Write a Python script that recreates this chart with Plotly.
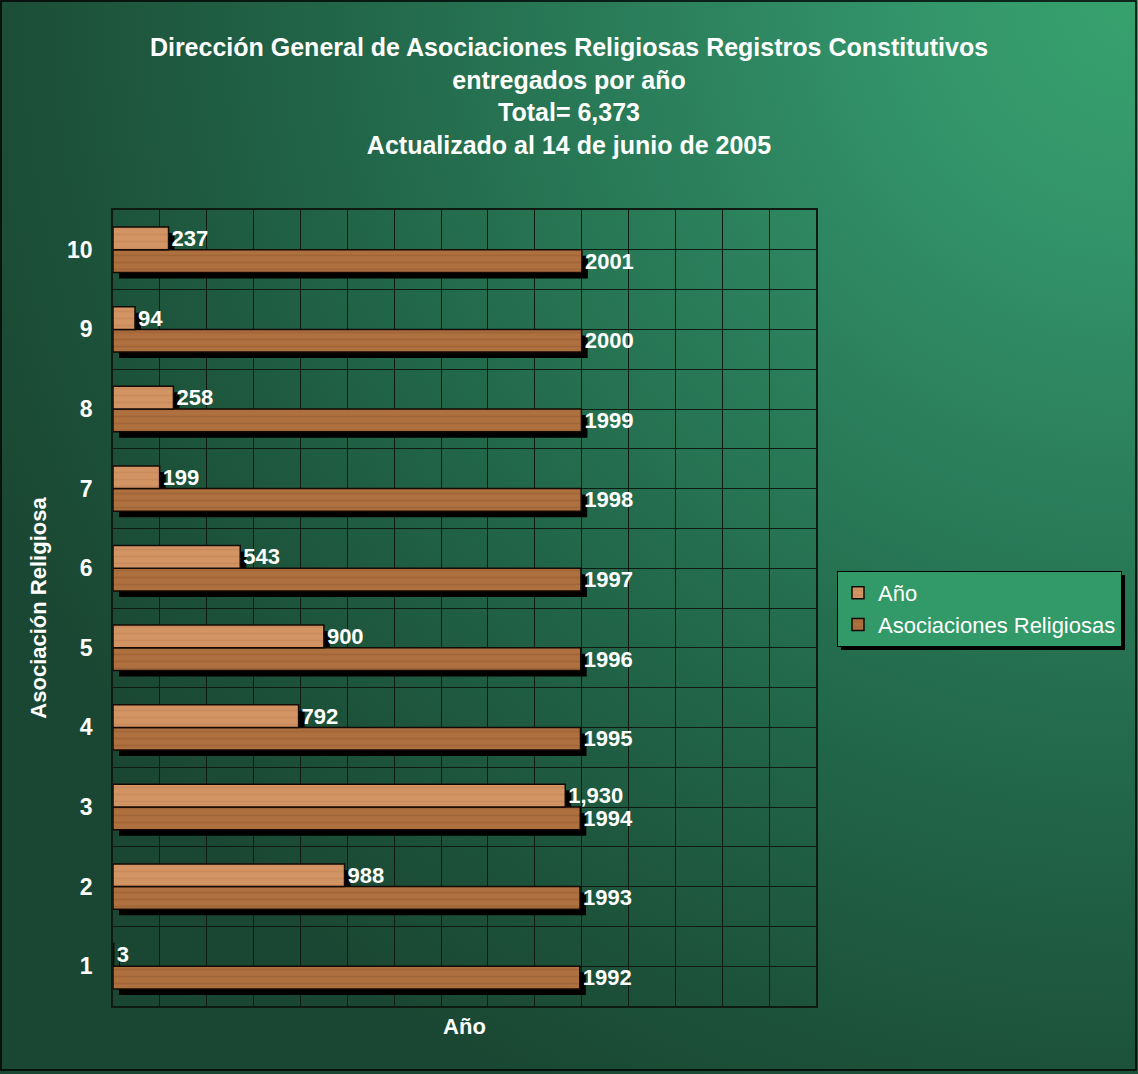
import base64
import plotly.graph_objects as go

# ---------------- data ----------------
cat_positions = [1, 2, 3, 4, 5, 6, 7, 8, 9, 10]
cat_labels = ["1", "2", "3", "4", "5", "6", "7", "8", "9", "10"]
anio_values = [3, 988, 1930, 792, 900, 543, 199, 258, 94, 237]
asoc_values = [1992, 1993, 1994, 1995, 1996, 1997, 1998, 1999, 2000, 2001]
series_names = ["Año", "Asociaciones Religiosas"]
title_lines = [
    "Dirección General de Asociaciones Religiosas Registros Constitutivos",
    "entregados por año",
    "Total= 6,373",
    "Actualizado al 14 de junio de 2005",
]
x_title = "Año"
y_title = "Asociación Religiosa"

# ---------------- geometry ----------------
W, H = 1138, 1074
ML, MR, MT, MB = 113, 322, 210, 68
PW, PH = W - ML - MR, H - MT - MB
XMAX = 3000
Y0, Y1 = 0.5, 10.5
SH_X, SH_Y = 6, 6  # shadow offset in px
dx = SH_X * XMAX / PW
dy = SH_Y * (Y1 - Y0) / PH

FONT = "Liberation Sans, Arial, sans-serif"
C_ANIO = "#D39464"
C_ASOC = "#AE703F"
GRID = "#0e1a12"

fig = go.Figure()

# shadows (main axes, shifted)
for vals in (asoc_values, anio_values):
    fig.add_trace(go.Bar(
        y=cat_positions, x=vals, orientation="h",
        marker=dict(color="#000000", line=dict(width=0)),
        showlegend=False, hoverinfo="skip",
        xaxis="x", yaxis="y",
    ))

# real bars (overlay axes)
fig.add_trace(go.Bar(
    y=cat_positions, x=asoc_values, orientation="h", name=series_names[1],
    marker=dict(color=C_ASOC, line=dict(color="#140a04", width=1.5),
                pattern=dict(shape="-", fgcolor="#8a5228", fgopacity=0.35,
                             size=7, solidity=0.25)),
    text=[str(v) for v in asoc_values], textposition="outside",
    constraintext="none", cliponaxis=False,
    textfont=dict(color="white", size=22, family=FONT, weight="bold"),
    xaxis="x2", yaxis="y2",
))
fig.add_trace(go.Bar(
    y=cat_positions, x=anio_values, orientation="h", name=series_names[0],
    marker=dict(color=C_ANIO, line=dict(color="#140a04", width=1.5),
                pattern=dict(shape="-", fgcolor="#b97a4c", fgopacity=0.35,
                             size=7, solidity=0.25)),
    text=[f"{v:,}" for v in anio_values], textposition="outside",
    constraintext="none", cliponaxis=False,
    textfont=dict(color="white", size=22, family=FONT, weight="bold"),
    xaxis="x2", yaxis="y2",
))

# background gradient as inline SVG
svg = f'''<svg xmlns="http://www.w3.org/2000/svg" width="{W}" height="{H}" viewBox="0 0 {W} {H}" preserveAspectRatio="none">
<defs><radialGradient id="g" gradientUnits="userSpaceOnUse" cx="{W}" cy="0" r="1250">
<stop offset="0" stop-color="#37a26e"/>
<stop offset="0.18" stop-color="#33946a"/>
<stop offset="0.62" stop-color="#22684a"/>
<stop offset="0.88" stop-color="#1c5039"/>
<stop offset="1" stop-color="#1a4733"/>
</radialGradient></defs>
<rect x="0" y="0" width="{W}" height="{H}" fill="url(#g)"/>
</svg>'''
svg_uri = "data:image/svg+xml;base64," + base64.b64encode(svg.encode()).decode()

def px_x(p):
    return (p - ML) / PW

def px_y(p):
    return (H - MB - p) / PH

half_ticks = [Y0 + 0.5 * i for i in range(int((Y1 - Y0) * 2) + 1)]
label_map = dict(zip(cat_positions, cat_labels))
half_text = [label_map.get(t, "") if float(t).is_integer() else "" for t in half_ticks]

fig.update_layout(
    width=W, height=H,
    margin=dict(l=ML, r=MR, t=MT, b=MB),
    paper_bgcolor="#1d5239",
    plot_bgcolor="rgba(0,0,0,0)",
    barmode="group", bargap=0.43, bargroupgap=0,
    font=dict(family=FONT, color="white", size=22),
    title=dict(
        text="<br>".join(title_lines),
        x=0.5, xref="container", xanchor="center",
        y=1 - 56 / H, yref="container", yanchor="top",
        font=dict(family=FONT, size=25, color="white", weight="bold"),
    ),
    xaxis=dict(range=[-dx, XMAX - dx], visible=False, fixedrange=True),
    yaxis=dict(range=[Y0 + dy, Y1 + dy], visible=False, fixedrange=True),
    xaxis2=dict(
        overlaying="x", anchor="y2", side="bottom",
        range=[0, XMAX], dtick=200, tick0=0,
        showgrid=True, gridcolor=GRID, gridwidth=1, zeroline=False,
        showticklabels=False, ticks="",
        showline=True, linecolor=GRID, linewidth=1.5, mirror=True,
        title=dict(text=x_title, standoff=12,
                   font=dict(family=FONT, size=22, color="white", weight="bold")),
    ),
    yaxis2=dict(
        overlaying="y", anchor="x2", side="left",
        range=[Y0, Y1], tickmode="array", tickvals=half_ticks, ticktext=half_text,
        showgrid=True, gridcolor=GRID, gridwidth=1, zeroline=False,
        ticks="", ticklabelstandoff=14,
        tickfont=dict(family=FONT, size=23, color="white", weight="bold"),
        showline=True, linecolor=GRID, linewidth=1.5, mirror=True,
        title=dict(text=y_title, standoff=14,
                   font=dict(family=FONT, size=22, color="white", weight="bold")),
    ),
    legend=dict(
        x=px_x(837), y=px_y(571), xanchor="left", yanchor="top",
        bgcolor="#329a68", bordercolor="#000000", borderwidth=1,
        font=dict(family=FONT, size=22, color="white"),
        traceorder="reversed",
    ),
    images=[dict(
        source=svg_uri, xref="paper", yref="paper",
        x=px_x(0), y=px_y(0), sizex=W / PW, sizey=H / PH,
        sizing="stretch", layer="below", xanchor="left", yanchor="top",
    )],
    shapes=[
        # legend shadow
        dict(type="rect", xref="paper", yref="paper",
             x0=px_x(841), x1=px_x(1125), y0=px_y(650), y1=px_y(575),
             fillcolor="#000000", line=dict(width=0), layer="above"),
        # outer chart border
        dict(type="rect", xref="paper", yref="paper",
             x0=px_x(1), x1=px_x(1136), y0=px_y(1070), y1=px_y(1),
             fillcolor="rgba(0,0,0,0)", line=dict(color="#000000", width=1.5)),
    ],
)

fig.write_html("out.html", config={"displayModeBar": False},
               post_script="document.body.style.margin='0';document.body.style.overflow='hidden';")
